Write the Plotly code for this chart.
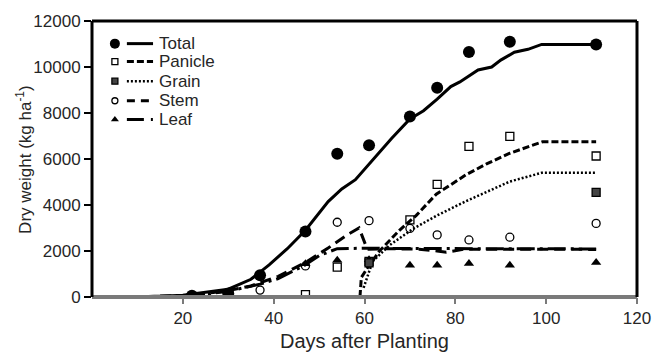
import plotly.graph_objects as go

# Sampling dates (days after planting) for the measured biomass components
days_obs = [22, 30, 37, 47, 54, 61, 70, 76, 83, 92, 111]
total_obs = [50, 150, 950, 2850, 6230, 6600, 7850, 9100, 10650, 11100, 10980]
panicle_obs = [None, None, None, 100, 1300, 1550, 3350, 4900, 6550, 6980, 6130]
grain_obs = [None, None, None, None, None, 1480, None, None, None, None, 4550]
stem_obs = [30, 150, 300, 1350, 3250, 3320, 2980, 2700, 2480, 2600, 3200]
leaf_obs = [20, 180, None, 1450, 1600, 1620, 1380, 1380, 1460, 1380, 1500]

# Simulated growth curves
total_days = [0, 10, 15, 20, 25, 30, 35, 39, 43, 47, 52, 55, 58, 63, 66, 70, 73, 76, 79, 81,
              85, 88, 90, 93, 96, 99, 111]
total_sim = [0, 10, 30, 80, 200, 340, 770, 1400, 2100, 2900, 4150, 4700, 5100, 6250, 6900,
             7740, 8100, 8600, 9150, 9350, 9870, 10000, 10300, 10640, 10770, 10980, 10980]

panicle_days = [59, 59.3, 60.7, 63.3, 67.7, 71.4, 75.8, 82.4, 87, 92, 99.2, 111]
panicle_sim = [0, 850, 1280, 2000, 2900, 3550, 4470, 5320, 5800, 6250, 6750, 6750]

grain_days = [59.8, 61.8, 65.5, 70.6, 75.8, 82.4, 92, 99, 111]
grain_sim = [400, 1550, 2250, 2950, 3530, 4170, 5020, 5400, 5400]

stem_days = [0, 10, 20, 25, 30, 35, 41, 47, 52, 56, 58.8, 59.6, 60.6, 65, 72, 76, 78, 82, 90, 100, 111]
stem_sim = [0, 10, 60, 150, 280, 480, 900, 1500, 2130, 2680, 3000, 2550, 2080, 2100, 2080,
            2000, 1950, 2080, 2070, 2080, 2070]

leaf_days = [0, 10, 20, 25, 30, 37, 41, 47, 50, 54, 60, 70, 80, 90, 100, 111]
leaf_sim = [0, 10, 40, 120, 250, 560, 800, 1400, 1800, 2100, 2120, 2110, 2100, 2100, 2090, 2090]

series_names = ["Total", "Panicle", "Grain", "Stem", "Leaf"]

FONT = "Liberation Sans, Arial, sans-serif"
TXT = "#262626"

line_styles = {
    "Total": dict(color="black", width=3, dash="solid"),
    "Panicle": dict(color="black", width=3, dash="7px,3px"),
    "Grain": dict(color="black", width=2.5, dash="2px,2px"),
    "Stem": dict(color="black", width=3, dash="11px,6px"),
    "Leaf": dict(color="black", width=3, dash="18px,5px,3px,5px"),
}
marker_styles = {
    "Total": dict(symbol="circle", size=12, color="black"),
    "Panicle": dict(symbol="square-open", size=8, color="black", line=dict(width=1.3)),
    "Grain": dict(symbol="square", size=8, color="#444444", line=dict(color="black", width=1.3)),
    "Stem": dict(symbol="circle-open", size=8, color="black", line=dict(width=1.3)),
    "Leaf": dict(symbol="triangle-up", size=9, color="black"),
}

curves = {
    "Total": (total_days, total_sim),
    "Panicle": (panicle_days, panicle_sim),
    "Grain": (grain_days, grain_sim),
    "Stem": (stem_days, stem_sim),
    "Leaf": (leaf_days, leaf_sim),
}
observed = {
    "Total": total_obs,
    "Panicle": panicle_obs,
    "Grain": grain_obs,
    "Stem": stem_obs,
    "Leaf": leaf_obs,
}

fig = go.Figure()

# Model curves, drawn under the observations
for name in ["Leaf", "Stem", "Grain", "Panicle", "Total"]:
    d, v = curves[name]
    fig.add_trace(go.Scatter(x=d, y=v, mode="lines", line=line_styles[name],
                             showlegend=False, hoverinfo="skip"))

# Observed points
for name in ["Leaf", "Stem", "Panicle", "Grain", "Total"]:
    fig.add_trace(go.Scatter(x=days_obs, y=observed[name], mode="markers",
                             marker=marker_styles[name], showlegend=False))

# Key: marker, line sample and label per series, on a unit overlay axis
key_rows = [0.918, 0.853, 0.782, 0.711, 0.643]
key_marker_x = 0.042
key_line_x = [0.064, 0.112]
for name, ry in zip(series_names, key_rows):
    ms = dict(marker_styles[name])
    ms["size"] = ms["size"] - 2
    fig.add_trace(go.Scatter(x=[key_marker_x], y=[ry], mode="markers", marker=ms,
                             xaxis="x2", yaxis="y2", showlegend=False, hoverinfo="skip"))
    ls = dict(line_styles[name])
    if name == "Stem":
        ls["dash"] = "8px,6px"
    if name == "Leaf":
        ls["dash"] = "17px,7px,2px,20px"
    fig.add_trace(go.Scatter(x=key_line_x, y=[ry, ry], mode="lines", line=ls,
                             xaxis="x2", yaxis="y2", showlegend=False, hoverinfo="skip"))
    fig.add_annotation(x=0.119, y=ry, xref="paper", yref="paper", text=name,
                       showarrow=False, xanchor="left", yanchor="middle",
                       font=dict(family=FONT, size=17, color=TXT))

# Y-axis title placed as a rotated label beside the tick labels
fig.add_annotation(x=-0.125, y=0.5, xref="paper", yref="paper",
                   text="Dry weight (kg ha<sup>-1</sup>)", textangle=-90,
                   showarrow=False, xanchor="center", yanchor="middle",
                   font=dict(family=FONT, size=17, color=TXT))

frame = [
    # bottom axis (grey), left/right/top border (black)
    dict(type="line", xref="paper", yref="paper", x0=0, x1=1, y0=0, y1=0,
         line=dict(color="#7a7a7a", width=4), layer="above"),
    dict(type="line", xref="paper", yref="paper", x0=0, x1=0, y0=0, y1=1,
         line=dict(color="black", width=3), layer="above"),
    dict(type="line", xref="paper", yref="paper", x0=1, x1=1, y0=0, y1=1,
         line=dict(color="black", width=3), layer="above"),
    dict(type="line", xref="paper", yref="paper", x0=0, x1=1, y0=1, y1=1,
         line=dict(color="black", width=3), layer="above"),
]

fig.update_layout(
    width=665, height=360,
    margin=dict(l=92, r=28, t=18, b=60),
    paper_bgcolor="white", plot_bgcolor="white",
    font=dict(family=FONT, size=17, color=TXT),
    xaxis=dict(range=[0, 120], tickvals=[20, 40, 60, 80, 100, 120], showgrid=False,
               zeroline=False, showline=False,
               ticks="outside", ticklen=6, tickwidth=1.5, tickcolor="#7a7a7a",
               title=dict(text="Days after Planting", standoff=6),
               tickfont=dict(size=17, color=TXT)),
    yaxis=dict(range=[0, 12000], tickvals=[0, 2000, 4000, 6000, 8000, 10000, 12000],
               tickformat="d", showgrid=False, zeroline=False, showline=False,
               ticks="outside", ticklen=7, tickwidth=1.5, tickcolor="black",
               tickfont=dict(size=17, color=TXT)),
    xaxis2=dict(range=[0, 1], overlaying="x", visible=False, fixedrange=True),
    yaxis2=dict(range=[0, 1], overlaying="y", visible=False, fixedrange=True),
    shapes=frame,
)

fig.write_html("out.html")
